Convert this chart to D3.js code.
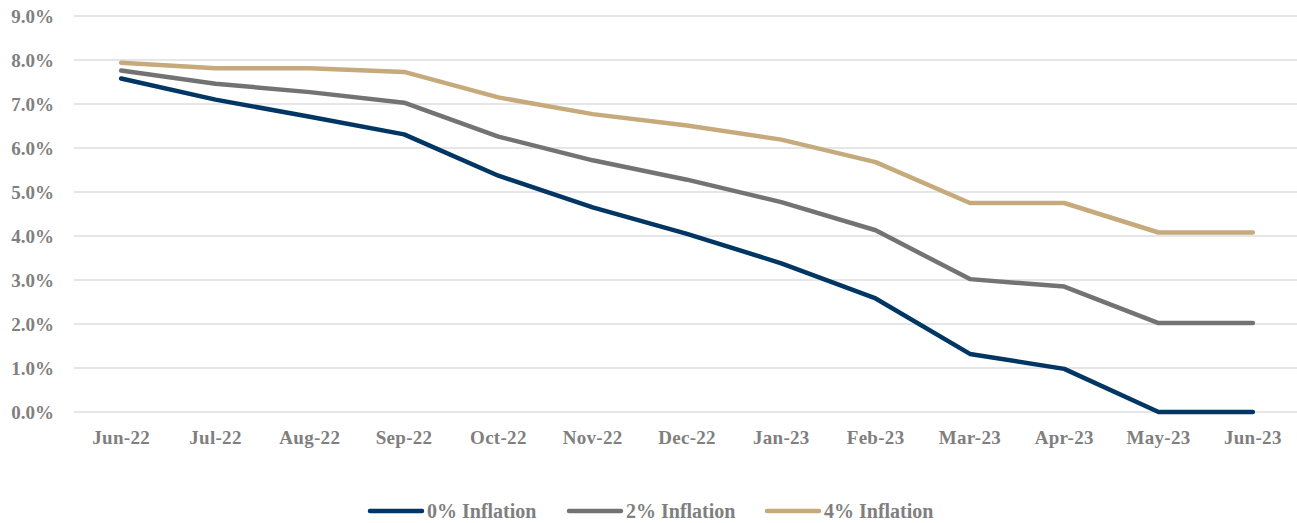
<!DOCTYPE html>
<html>
<head>
<meta charset="utf-8">
<script src="https://cdn.jsdelivr.net/npm/d3@7"></script>
<style>
  body { margin: 0; background: #fff; }
  svg text { font-family: "Liberation Serif", "DejaVu Serif", serif; font-weight: bold; fill: #7f7f7f; }
</style>
</head>
<body>
<svg id="chart" width="1297" height="523"></svg>
<script>
// data
const months = ["Jun-22","Jul-22","Aug-22","Sep-22","Oct-22","Nov-22","Dec-22","Jan-23","Feb-23","Mar-23","Apr-23","May-23","Jun-23"];
const infl0 = [7.58, 7.10, 6.71, 6.31, 5.37, 4.65, 4.05, 3.38, 2.58, 1.32, 0.98, 0.0, 0.0];
const infl2 = [7.76, 7.46, 7.27, 7.03, 6.26, 5.72, 5.28, 4.77, 4.13, 3.02, 2.85, 2.02, 2.02];
const infl4 = [7.94, 7.81, 7.81, 7.73, 7.15, 6.77, 6.51, 6.19, 5.68, 4.75, 4.75, 4.08, 4.08];
const yTicks = [0, 1, 2, 3, 4, 5, 6, 7, 8, 9];
const seriesNames = ["0% Inflation", "2% Inflation", "4% Inflation"];
const colors = ["#003663", "#737373", "#c6aa7b"];

const series = [infl0, infl2, infl4];
const svg = d3.select("#chart");
const margin = {left: 74, right: -3, top: 16, bottom: 111};
const W = 1297, H = 523;

var x = d3.scalePoint()
  .domain(months)
  .range([margin.left, W - margin.right])
  .padding(0.5);
var y = d3.scaleLinear()
  .domain([0, 9])
  .range([H - margin.bottom, margin.top]);

// gridlines
svg.append("g")
  .selectAll("line")
  .data(yTicks)
  .enter().append("line")
  .attr("x1", margin.left)
  .attr("x2", W)
  .attr("y1", d => y(d))
  .attr("y2", d => y(d))
  .attr("stroke", "#dedde3")
  .attr("stroke-width", 1.3);

// y labels
svg.append("g")
  .selectAll("text")
  .data(yTicks)
  .enter().append("text")
  .attr("x", 54)
  .attr("y", d => y(d))
  .attr("dy", "0.35em")
  .attr("text-anchor", "end")
  .style("font-size", "19px")
  .text(d => d3.format(".1f")(d) + "%");

// x labels
svg.append("g")
  .selectAll("text")
  .data(months)
  .enter().append("text")
  .attr("x", d => x(d))
  .attr("y", 444)
  .attr("text-anchor", "middle")
  .style("font-size", "19px")
  .style("letter-spacing", "0.3px")
  .text(d => d);

// lines
var line = d3.line()
  .x((d, i) => x(months[i]))
  .y(d => y(d));

svg.append("g")
  .selectAll("path")
  .data(series)
  .enter().append("path")
  .attr("d", line)
  .attr("fill", "none")
  .attr("stroke", (d, i) => colors[i])
  .attr("stroke-width", 4.5)
  .attr("stroke-linecap", "round")
  .attr("stroke-linejoin", "round");

// legend
const legendX = [370, 569, 767];
var legend = svg.append("g")
  .selectAll("g")
  .data(seriesNames)
  .enter().append("g")
  .attr("transform", (d, i) => "translate(" + legendX[i] + ",511)");
legend.append("line")
  .attr("x1", 0).attr("x2", 52)
  .attr("stroke", (d, i) => colors[i])
  .attr("stroke-width", 4.5)
  .attr("stroke-linecap", "round");
legend.append("text")
  .attr("x", 57)
  .attr("dy", "0.35em")
  .style("font-size", "20px")
  .text(d => d);
</script>
</body>
</html>
